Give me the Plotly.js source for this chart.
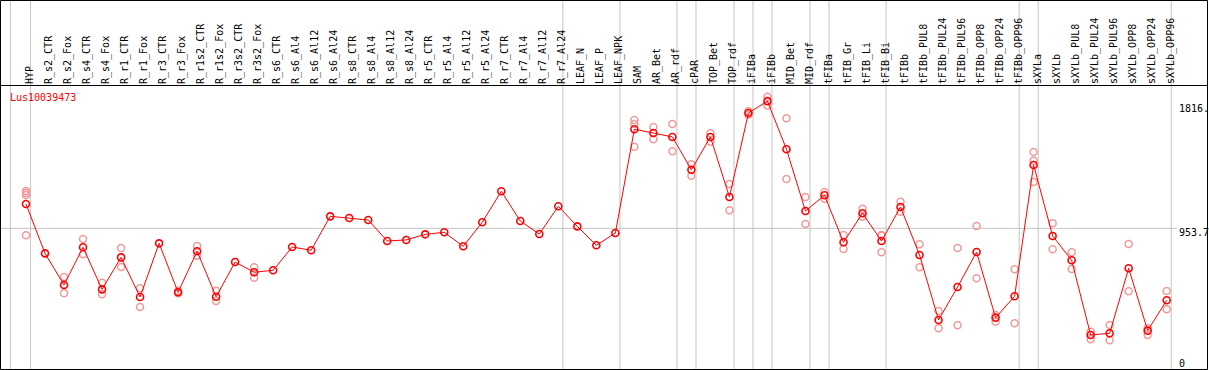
<!DOCTYPE html>
<html>
<head>
<meta charset="utf-8">
<script src="https://cdn.plot.ly/plotly-3.0.1.min.js"></script>
<style>
  html, body { margin: 0; padding: 0; background: #fff; }
  #chart { width: 1209px; height: 370px; }
</style>
</head>
<body>
<div id="chart"></div>
<script>
// ---------------- data ----------------
const geneId = 'Lus10039473';

const categories = [
  'HYP', 'R_s2_CTR', 'R_s2_Fox', 'R_s4_CTR', 'R_s4_Fox', 'R_r1_CTR', 'R_r1_Fox',
  'R_r3_CTR', 'R_r3_Fox', 'R_r1s2_CTR', 'R_r1s2_Fox', 'R_r3s2_CTR', 'R_r3s2_Fox',
  'R_s6_CTR', 'R_s6_Al4', 'R_s6_Al12', 'R_s6_Al24', 'R_s8_CTR', 'R_s8_Al4',
  'R_s8_Al12', 'R_s8_Al24', 'R_r5_CTR', 'R_r5_Al4', 'R_r5_Al12', 'R_r5_Al24',
  'R_r7_CTR', 'R_r7_Al4', 'R_r7_Al12', 'R_r7_Al24', 'LEAF_N', 'LEAF_P', 'LEAF_NPK',
  'SAM', 'AR_Bet', 'AR_rdf', 'cPAR', 'TOP_Bet', 'TOP_rdf', 'iFIBa', 'iFIBb',
  'MID_Bet', 'MID_rdf', 'tFIBa', 'tFIB_Gr', 'tFIB_Li', 'tFIB_Bi', 'tFIBb',
  'tFIBb_PUL8', 'tFIBb_PUL24', 'tFIBb_PUL96', 'tFIBb_OPP8', 'tFIBb_OPP24', 'tFIBb_OPP96',
  'sXYLa', 'sXYLb', 'sXYLb_PUL8', 'sXYLb_PUL24', 'sXYLb_PUL96', 'sXYLb_OPP8',
  'sXYLb_OPP24', 'sXYLb_OPP96'
];

// mean expression per sample
const means = [
  1119, 784, 570, 825, 540, 757, 488, 852, 520, 798,
  490, 725, 656, 669, 827, 805, 1035, 1024, 1010, 868,
  875, 913, 927, 832, 995, 1205, 1003, 915, 1103, 967,
  839, 922, 1625, 1600, 1573, 1351, 1573, 1166, 1736, 1816,
  1490, 1071, 1178, 859, 1056, 868, 1098, 773, 332, 556,
  793, 348, 493, 1383, 902, 737, 231, 242, 683, 260, 466
];

// individual replicate values per sample
const replicates = [
  [1207, 1193, 1180, 906], [], [624, 513], [881, 778], [584, 506],
  [820, 692], [547, 420], [], [531, 513], [834, 768],
  [531, 461], [], [690, 619], [], [],
  [], [], [], [], [],
  [], [], [], [], [],
  [], [], [], [], [],
  [], [], [1688, 1661, 1507], [1641, 1557], [1661, 1476],
  [1388, 1311], [1598, 1541], [1254, 1076], [1724, 1747], [1845, 1787],
  [1700, 1288], [1166, 983], [1200, 1155], [909, 814], [1087, 1033],
  [904, 908, 791], [1134, 1066], [845, 690], [393, 276], [820, 296],
  [970, 615], [366, 321], [676, 310], [1471, 1412, 1268], [988, 812],
  [791, 678], [253, 201], [298, 195], [848, 527], [276, 231], [529, 405]
];

// number of samples in each tissue group (vertical separators between groups)
const groupSizes = [1, 28, 3, 3, 1, 2, 1, 1, 2, 1, 3, 7, 1, 7];

// right-hand scale labels
const yTickVals = [0, 953.7, 1816];
const yTickText = ['0', '953.7', '1816.'];

// ---------------- layout helpers ----------------
const W = 1209, H = 370;
const M = { l: 1, r: 2, t: 85, b: 1 };
const plotW = W - M.l - M.r;      // 1206
const plotH = H - M.t - M.b;      // 284
const pxX = px => (px - M.l) / plotW;            // pixel -> paper x
const pxY = py => (H - M.b - py) / plotH;        // pixel -> paper y

const idx = categories.map((_, i) => i);
const xRange = [-1.315, 62.12];
const labelNudge = 0.2;   // small rightward nudge of the rotated sample labels
const xRange2 = [xRange[0] - labelNudge, xRange[1] - labelNudge];
const yRange = [0, 1925.4];

const mono = 'DejaVu Sans Mono, monospace';

// replicate points
const repX = [], repY = [];
replicates.forEach((vals, i) => vals.forEach(v => { repX.push(i); repY.push(v); }));

const traces = [
  {
    type: 'scatter', mode: 'markers', x: repX, y: repY,
    marker: { symbol: 'circle-open', size: 7, color: '#f09a9a', line: { width: 1.5 } },
    hoverinfo: 'skip', cliponaxis: false
  },
  {
    type: 'scatter', mode: 'lines+markers', x: idx, y: means,
    line: { color: '#ff0000', width: 1 },
    marker: { symbol: 'circle-open', size: 7, color: '#ff0000', line: { width: 1.6 } },
    cliponaxis: false
  },
  {
    type: 'scatter', mode: 'markers', x: idx, y: means, xaxis: 'x2',
    marker: { opacity: 0 }, hoverinfo: 'skip', showlegend: false
  }
];

// group separator gridlines
const shapes = [];
const sepOffset = 0.24;
const topPaper = pxY(0.5);
let last = -1;
shapes.push({ type: 'line', xref: 'x', yref: 'paper', x0: last - 0.06 + sepOffset, x1: last - 0.06 + sepOffset,
  y0: pxY(369.5), y1: topPaper, line: { color: '#c4c4c4', width: 1 }, layer: 'below' });
groupSizes.forEach(n => {
  last += n;
  shapes.push({ type: 'line', xref: 'x', yref: 'paper', x0: last + sepOffset, x1: last + sepOffset,
    y0: pxY(369.5), y1: topPaper, line: { color: '#c4c4c4', width: 1 }, layer: 'below' });
});

// horizontal gridline at middle scale value
const labelPx = 1177;
shapes.push({ type: 'line', xref: 'paper', yref: 'y', x0: 0, x1: pxX(labelPx), y0: yTickVals[1], y1: yTickVals[1],
  line: { color: '#c4c4c4', width: 1 }, layer: 'below' });

// frame and header separator
shapes.push({ type: 'rect', xref: 'paper', yref: 'paper', x0: pxX(0.5), x1: pxX(1207.5), y0: pxY(369.5), y1: topPaper,
  line: { color: '#000', width: 1 }, fillcolor: 'rgba(0,0,0,0)' });
shapes.push({ type: 'line', xref: 'paper', yref: 'paper', x0: pxX(0.5), x1: pxX(1207.5), y0: pxY(85.5), y1: pxY(85.5),
  line: { color: '#000', width: 1 } });

// scale labels
const labelShift = [6, -4.5, -7];
const annotations = yTickVals.map((v, i) => ({
  xref: 'paper', yref: 'y', x: pxX(labelPx), y: v, xanchor: 'left', yanchor: 'middle',
  yshift: labelShift[i], text: yTickText[i], showarrow: false,
  font: { family: mono, size: 10, color: '#000' }
}));

const layout = {
  width: W, height: H,
  margin: { l: M.l, r: M.r, t: M.t, b: M.b, pad: 0 },
  paper_bgcolor: '#fff', plot_bgcolor: '#fff',
  showlegend: false,
  title: {
    text: geneId, font: { family: mono, size: 10, color: '#ff0000' },
    xref: 'container', yref: 'container', x: 10 / W, xanchor: 'left',
    y: 1 - 97.8 / H, yanchor: 'middle', pad: { t: 0, b: 0, l: 0, r: 0 }
  },
  xaxis: { range: xRange, showgrid: false, zeroline: false, showticklabels: false, ticks: '', showline: false, fixedrange: true },
  xaxis2: {
    overlaying: 'x', side: 'top', range: xRange2, tickmode: 'array', tickvals: idx, ticktext: categories,
    tickangle: -90, ticks: '', showgrid: false, zeroline: false, showline: false,
    tickfont: { family: mono, size: 10, color: '#000' }, fixedrange: true
  },
  yaxis: { range: yRange, showgrid: false, zeroline: false, showticklabels: false, ticks: '', showline: false, fixedrange: true },
  shapes: shapes,
  annotations: annotations
};

Plotly.newPlot('chart', traces, layout, { displayModeBar: false, staticPlot: true });
</script>
</body>
</html>
